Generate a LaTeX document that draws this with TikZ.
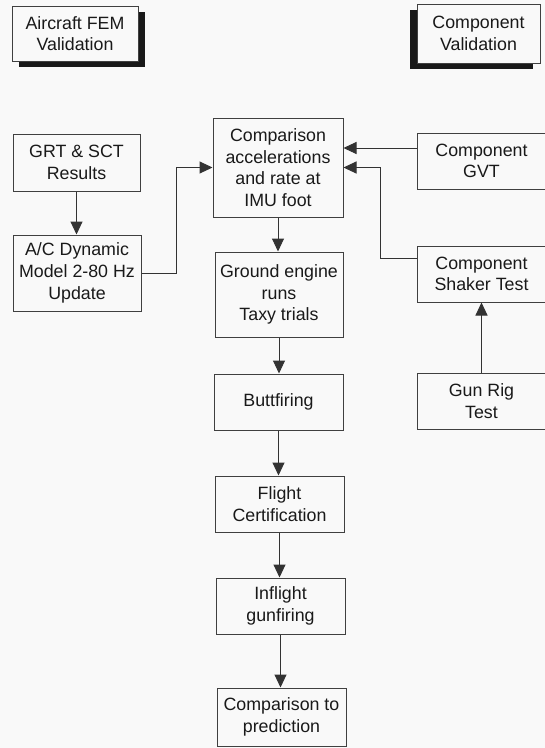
\documentclass[tikz,border=0pt]{standalone}
\usepackage{fontspec}
\setmainfont{Liberation Sans}
\usetikzlibrary{arrows.meta,shadows}
\definecolor{bgc}{gray}{0.975}
\begin{document}
\begin{tikzpicture}[x=1pt,y=-1pt,
  box/.style={draw=black!75, line width=1pt, fill=bgc, align=center, inner sep=0pt,
    font=\fontsize{17.8}{21.7}\selectfont, text=black!90},
  arr/.style={draw=black!80, line width=1pt, -{Triangle[length=13pt,width=12pt]}},
  shadowR/.style={drop shadow={shadow xshift=7pt, shadow yshift=-6pt, fill=black!90, opacity=1}},
  shadowL/.style={drop shadow={shadow xshift=-7pt, shadow yshift=-6pt, fill=black!90, opacity=1}}]
\fill[bgc] (0,0) rectangle (545,748);
\useasboundingbox (0,0) rectangle (545,748);

\node[box, shadowR, minimum width=126pt, minimum height=55pt] (fem) at (75,33.5) {Aircraft FEM\\Validation};
\node[box, shadowL, minimum width=123pt, minimum height=59pt] (compval) at (478.5,33.5) {Component\\Validation};

\node[box, minimum width=127pt, minimum height=57pt] (grt) at (76.5,162.5) {GRT \& SCT\\Results};
\node[box, minimum width=128pt, minimum height=76pt] (ac) at (77,273) {A/C Dynamic\\Model 2-80 Hz\\Update};
\node[box, minimum width=130pt, minimum height=99pt] (cmp) at (278,167.5) {Comparison\\accelerations\\and rate at\\IMU foot};
\node[box, minimum width=129pt, minimum height=56pt] (gvt) at (481.5,161) {Component\\GVT};
\node[box, minimum width=129pt, minimum height=56pt] (shaker) at (481.5,274) {Component\\Shaker Test};
\node[box, minimum width=129pt, minimum height=56pt] (gun) at (481.5,401) {Gun Rig\\Test};
\node[box, minimum width=128pt, minimum height=85pt] (ground) at (279,294.5) {Ground engine\\runs\\Taxy trials};
\node[box, minimum width=129pt, minimum height=56pt] (butt) at (278.5,402) {Buttfiring};
\node[box, minimum width=129pt, minimum height=56pt] (flight) at (279.5,504) {Flight\\Certification};
\node[box, minimum width=129pt, minimum height=56pt] (inflight) at (280.5,606) {Inflight\\gunfiring};
\node[box, minimum width=129pt, minimum height=58pt] (pred) at (281.5,717) {Comparison to\\prediction};

\draw[arr] (grt.south) -- (grt.south |- ac.north);
\draw[arr] (ac.east) -- ++(35,0) |- (cmp.west);
\draw[arr] ([yshift=13pt]gvt.west) -- ([yshift=13pt]gvt.west -| cmp.east);
\draw[arr] ([yshift=16pt]shaker.west) -- ++(-36,0) |- (cmp.east);
\draw[arr] (cmp.south) -- (cmp.south |- ground.north);
\draw[arr] (ground.south) -- (ground.south |- butt.north);
\draw[arr] (butt.south) -- (butt.south |- flight.north);
\draw[arr] (flight.south) -- (flight.south |- inflight.north);
\draw[arr] (inflight.south) -- (inflight.south |- pred.north);
\draw[arr] (gun.north) -- (gun.north |- shaker.south);
\end{tikzpicture}
\end{document}
